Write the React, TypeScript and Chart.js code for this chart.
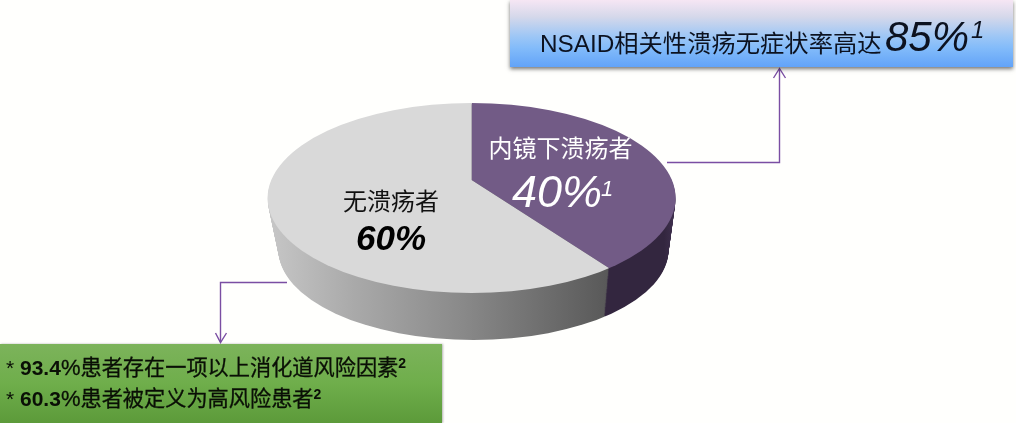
import React, { useEffect, useRef } from "react";
import { Chart, registerables } from "chart.js";

Chart.register(...registerables);

// Data
const categories = ["内镜下溃疡者", "无溃疡者"];
const shareValues = [40, 60];
const sliceColors = ["#725b86", "#d9d9d9"];
const calloutTitle = "NSAID相关性溃疡无症状率高达";
const calloutValue = "85%";
const riskLines = [
  { stat: "93.4", text: "患者存在一项以上消化道风险因素" },
  { stat: "60.3", text: "患者被定义为高风险患者" },
];

const FONT = '"Liberation Sans", "Noto Sans CJK SC", sans-serif';

const TOP = { cx: 471.6, cy: 198, rx: 204, ry: 95, apexLift: 18 };
const BASE = { cx: 473.5, cy: 250, rx: 195, ry: 90 };
const DEPTH_STEPS = 52;

function drawLayer(ctx: CanvasRenderingContext2D, chart: any, g: any, fills?: ((m: (x: number) => number) => any)[]) {
  const meta = chart.getDatasetMeta(0);
  const el0 = meta.data[0];
  const k = 1.45;
  const sx = (k * g.rx) / TOP.rx;
  const sy = (k * g.ry) / TOP.rx;
  const apexY = g.cy - (TOP.apexLift * g.ry) / TOP.ry;
  ctx.save();
  ctx.beginPath();
  ctx.ellipse(g.cx, g.cy, g.rx, g.ry, 0, 0, Math.PI * 2);
  ctx.clip();
  ctx.translate(g.cx, apexY);
  ctx.scale(sx, sy);
  ctx.translate(-el0.x, -el0.y);
  const mapX = (X: number) => el0.x + (X - g.cx) / sx;
  meta.data.forEach((el: any, i: number) => {
    if (fills) {
      const orig = el.options;
      el.options = Object.create(orig, { backgroundColor: { value: fills[i](mapX) } });
      el.draw(ctx);
      el.options = orig;
    } else {
      el.draw(ctx);
    }
  });
  ctx.restore();
}

const pie3d = {
  id: "pie3d",
  beforeDatasetsDraw(chart: any) {
    const ctx: CanvasRenderingContext2D = chart.ctx;
    const fills = [
      (m: (x: number) => number) => {
        const gr = ctx.createLinearGradient(m(600), 0, m(680), 0);
        gr.addColorStop(0, "#33263f");
        gr.addColorStop(0.8, "#33263f");
        gr.addColorStop(1, "#463656");
        return gr;
      },
      (m: (x: number) => number) => {
        const gr = ctx.createLinearGradient(m(270), 0, m(610), 0);
        gr.addColorStop(0, "#c6c6c6");
        gr.addColorStop(0.25, "#a9a9a9");
        gr.addColorStop(0.55, "#8b8b8b");
        gr.addColorStop(1, "#585858");
        return gr;
      },
    ];
    for (let s = 0; s < DEPTH_STEPS; s++) {
      const t = s / DEPTH_STEPS;
      drawLayer(ctx, chart, {
        cx: BASE.cx + (TOP.cx - BASE.cx) * t,
        cy: BASE.cy + (TOP.cy - BASE.cy) * t,
        rx: BASE.rx + (TOP.rx - BASE.rx) * t,
        ry: BASE.ry + (TOP.ry - BASE.ry) * t,
      }, fills);
    }
    drawLayer(ctx, chart, TOP);
    return false;
  },
};

const abs = (left: number, baseline: number, size: number, extra: React.CSSProperties = {}): React.CSSProperties => ({
  position: "absolute",
  left,
  top: baseline - size,
  lineHeight: `${size * 1.2}px`,
  fontSize: size,
  fontFamily: FONT,
  whiteSpace: "nowrap",
  ...extra,
});

export default function App() {
  const ref = useRef<HTMLCanvasElement>(null);
  useEffect(() => {
    document.body.style.margin = "0";
    document.body.style.background = "#fffffd";
    const chart = new Chart(ref.current!, {
      type: "pie",
      data: {
        labels: categories,
        datasets: [{ data: shareValues, backgroundColor: sliceColors, borderWidth: 0 }],
      },
      options: {
        animation: false,
        responsive: false,
        devicePixelRatio: 1,
        plugins: { legend: { display: false }, tooltip: { enabled: false } },
      },
      plugins: [pie3d],
    } as any);
    return () => chart.destroy();
  }, []);

  const lineColor = "#7a4ea3";
  return (
    <div style={{ position: "relative", width: 1016, height: 423, overflow: "hidden", background: "#fffffd" }}>
      <canvas ref={ref} width={1016} height={423} style={{ position: "absolute", left: 0, top: 0, width: 1016, height: 423 }} />

      <svg width={1016} height={423} style={{ position: "absolute", left: 0, top: 0 }}>
        <polyline points="667,162.5 779.5,162.5 779.5,69" fill="none" stroke={lineColor} strokeWidth={1.4} />
        <polyline points="773.5,78 779.5,68.5 785.5,78" fill="none" stroke={lineColor} strokeWidth={1.4} />
        <polyline points="287,282.5 220.5,282.5 220.5,342" fill="none" stroke={lineColor} strokeWidth={1.4} />
        <polyline points="215.5,333 220.5,342.5 226.5,333" fill="none" stroke={lineColor} strokeWidth={1.4} />
      </svg>

      {/* Top callout */}
      <div
        style={{
          position: "absolute", left: 510, top: 0, width: 503, height: 67,
          background: "linear-gradient(to bottom, #f6e6f4 0%, #d5d8ea 25%, #9cc6f6 55%, #82bbfa 72%, #62a3f8 100%)",
          boxShadow: "0 2px 4px rgba(0,0,0,0.55)",
        }}
      />
      <div style={abs(540, 53, 24.3, { color: "#0c1220" })}>{calloutTitle}</div>
      <div style={abs(885, 54, 42, { color: "#0c1220", fontStyle: "italic" })}>{calloutValue}</div>
      <div style={abs(971, 40, 24, { color: "#0c1220", fontStyle: "italic" })}>1</div>

      {/* Slice labels */}
      <div style={abs(488.5, 159, 24, { color: "#ffffff" })}>{categories[0]}</div>
      <div style={abs(512, 210, 45, { color: "#ffffff", fontStyle: "italic" })}>{shareValues[0]}%</div>
      <div style={abs(601, 198, 22, { color: "#ffffff", fontStyle: "italic" })}>1</div>
      <div style={abs(343, 212, 24, { color: "#111111" })}>{categories[1]}</div>
      <div style={abs(356, 252, 35, { color: "#000000", fontStyle: "italic", fontWeight: 700 })}>{shareValues[1]}%</div>

      {/* Bottom callout */}
      <div
        style={{
          position: "absolute", left: 0, top: 344, width: 442, height: 79,
          background: "linear-gradient(to bottom, #7cb35b 0%, #6fae4b 50%, #5c9a3a 100%)",
          boxShadow: "1px 0 2px rgba(0,0,0,0.3)",
        }}
      />
      {riskLines.map((l, i) => (
        <div key={l.stat} style={abs(6, 376 + i * 31, 21, { color: "#0a0f06" })}>
          <span>* </span>
          <b>{l.stat}</b>
          <span style={{ fontSize: 22, WebkitTextStroke: "0.3px #0a0f06" }}>%</span>
          <span style={{ fontSize: 21.2, WebkitTextStroke: "0.3px #0a0f06" }}>{l.text}</span>
          <b style={{ fontSize: 14, position: "relative", top: -7 }}>2</b>
        </div>
      ))}
    </div>
  );
}
